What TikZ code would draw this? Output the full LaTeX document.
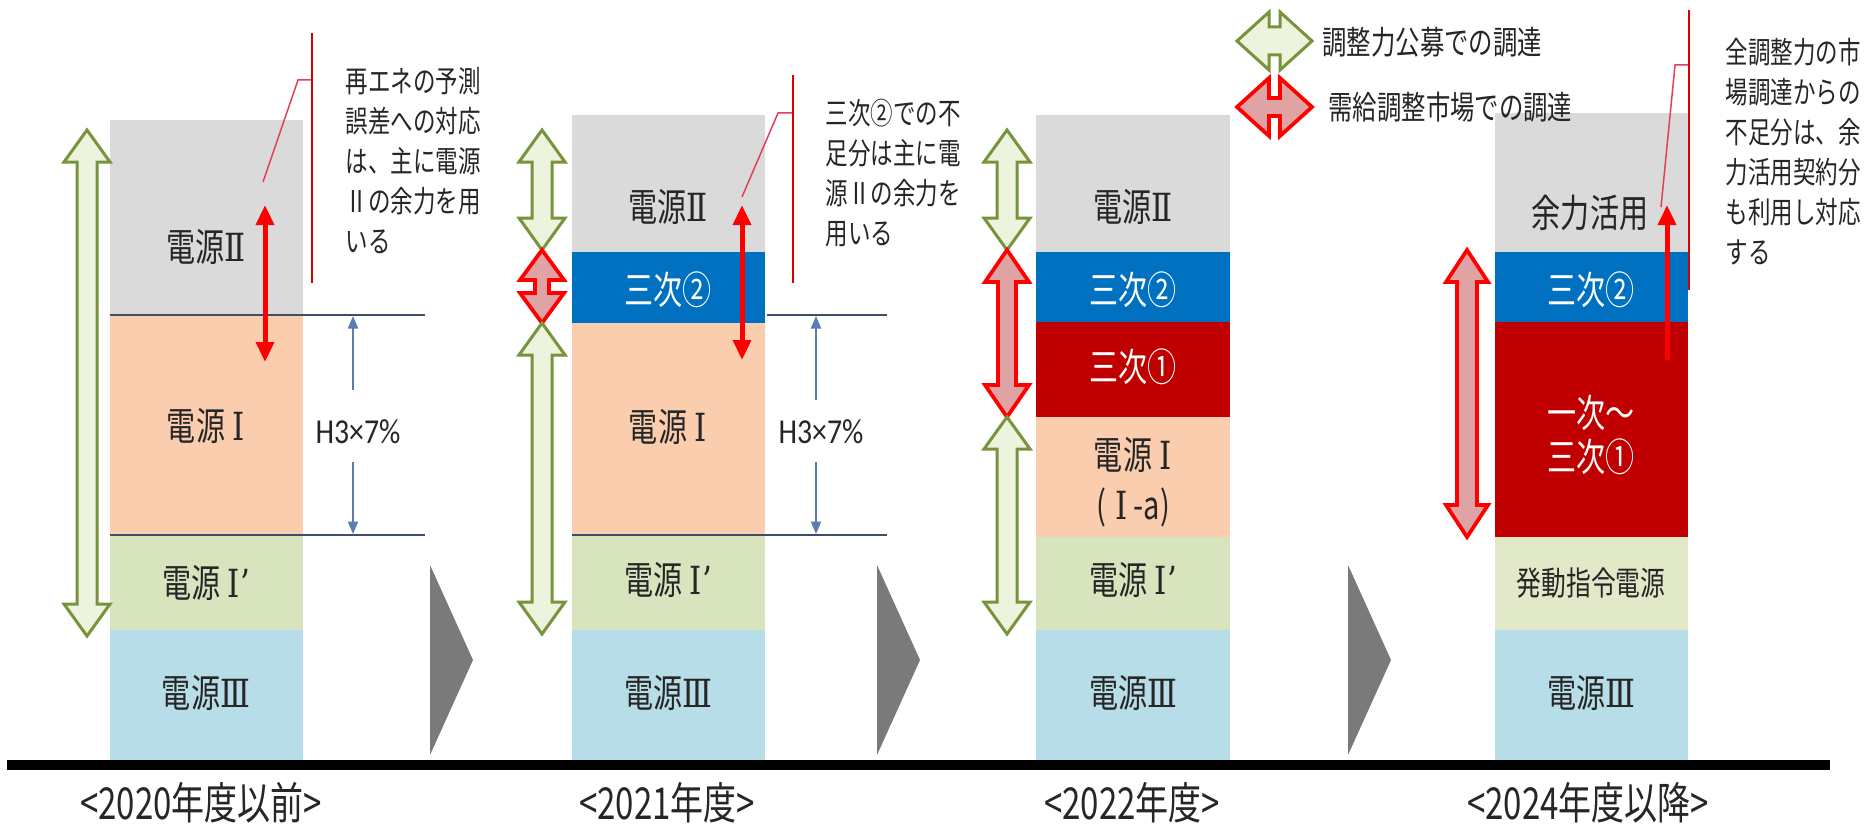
\documentclass[tikz,border=0pt]{standalone}
\usepackage{fontspec}
\usetikzlibrary{arrows.meta}
\newfontfamily\jp[FakeStretch=0.75]{Noto Sans CJK JP}
\newfontfamily\lat[FakeStretch=0.85]{Carlito}
\newfontfamily\romf[FakeStretch=0.8]{DejaVu Serif}
\newcommand{\RN}[1]{{\romf #1}}
\newcommand{\RNI}[1]{\hspace{0.2em}{\romf #1}}
\definecolor{cgray}{HTML}{DADADA}
\definecolor{cpeach}{HTML}{F9CDAE}
\definecolor{cgreen}{HTML}{D8E4BE}
\definecolor{cpale}{HTML}{E2E9C8}
\definecolor{clblue}{HTML}{B7DEE8}
\definecolor{cblue}{HTML}{0070C0}
\definecolor{cdred}{HTML}{C00000}
\definecolor{colive}{HTML}{77933C}
\definecolor{colivefill}{HTML}{EEF3DE}
\definecolor{credfill}{HTML}{DFA3A3}
\definecolor{cline}{HTML}{3F4E68}
\definecolor{cthin}{HTML}{5A7CB0}
\definecolor{ctext}{HTML}{262626}
\definecolor{cchev}{HTML}{7A7A7A}
\definecolor{ccall}{HTML}{E0405A}
\newcommand{\vdarr}[7]{% style, x, ytop, ybot, shaft hw, head hw, head len
  \draw[#1] (#2,#3) -- (#2+#6,#3+#7) -- (#2+#5,#3+#7) -- (#2+#5,#4-#7) -- (#2+#6,#4-#7) -- (#2,#4)
    -- (#2-#6,#4-#7) -- (#2-#5,#4-#7) -- (#2-#5,#3+#7) -- (#2-#6,#3+#7) -- cycle;}
\newcommand{\hdarr}[7]{% style, y, xl, xr, shaft hw, head hw, head len
  \draw[#1] (#3,#2) -- (#3+#7,#2-#6) -- (#3+#7,#2-#5) -- (#4-#7,#2-#5) -- (#4-#7,#2-#6) -- (#4,#2)
    -- (#4-#7,#2+#6) -- (#4-#7,#2+#5) -- (#3+#7,#2+#5) -- (#3+#7,#2+#6) -- cycle;}
\begin{document}
\begin{tikzpicture}[x=0.4pt,y=-0.4pt,
  lbl/.style={font=\jp\fontsize{15.5}{20}\selectfont, text=ctext, inner sep=0pt, align=center},
  wlbl/.style={lbl, text=white},
  note/.style={font=\jp\fontsize{12}{16}\selectfont, text=ctext, inner sep=0pt, align=left, anchor=north west},
  yr/.style={font=\jp\fontsize{17.6}{20}\selectfont, text=ctext, inner sep=0pt},
  hlbl/.style={font=\lat\fontsize{14}{16}\selectfont, text=ctext, inner sep=0pt},
  legtext/.style={font=\jp\fontsize{13}{16}\selectfont, text=ctext, inner sep=0pt, anchor=west},
  garr/.style={draw=colive, fill=colivefill, line width=1.2pt, line join=miter},
  rarr/.style={draw=red, fill=credfill, line width=1.5pt, line join=miter},
  thinred/.style={red, line width=2pt, -{Triangle[width=7pt,length=8pt]}},
  thinredd/.style={red, line width=2pt, {Triangle[width=7pt,length=8pt]}-{Triangle[width=7pt,length=8pt]}},
  bluearr/.style={cthin, line width=0.8pt, -{Triangle[width=4pt,length=5pt]}},
  hline/.style={cline, line width=0.9pt},
  call/.style={ccall, line width=0.6pt},
  callv/.style={red!85!black, line width=0.7pt},
  chev/.style={fill=cchev}
]
\fill[white] (0,0) rectangle (1870,826);
\useasboundingbox (0,0) rectangle (1870,826);

% ---------------- Column 1 ----------------
\fill[cgray] (110,120) rectangle (303,315);
\fill[cpeach] (110,315) rectangle (303,535);
\fill[cgreen] (110,535) rectangle (303,630);
\fill[clblue] (110,630) rectangle (303,760);
\node[lbl] (a2) at (206,247) {電源\RN{Ⅱ}};
\node[lbl] (a1) at (206,426) {電源\RNI{Ⅰ}};
\node[lbl] (a1p) at (206,583) {電源\RNI{Ⅰ’}};
\node[lbl] (a3) at (206,693) {電源\RN{Ⅲ}};
\coordinate (aL1s) at (110,315); \coordinate (aL1e) at (425,315);
\coordinate (aL2s) at (110,535); \coordinate (aL2e) at (425,535);
\draw[hline] (aL1s) -- (aL1e);
\draw[hline] (aL2s) -- (aL2e);
\node[hlbl] (ah) at (358,432) {H3×7\%};
\coordinate (ahu) at (353,390); \coordinate (ahut) at (353,316);
\coordinate (ahd) at (353,462); \coordinate (ahdt) at (353,534);
\draw[bluearr] (ahu) -- (ahut);
\draw[bluearr] (ahd) -- (ahdt);
\vdarr{garr}{87}{130}{636}{10}{23}{32}
\coordinate (art) at (265,205); \coordinate (arb) at (265,362);
\draw[thinredd] (art) -- (arb);
\coordinate (ac1) at (263,182); \coordinate (ac2) at (298,80); \coordinate (ac3) at (312,80);
\draw[call] (ac1) -- (ac2) -- (ac3);
\coordinate (av1) at (312,33); \coordinate (av2) at (312,283);
\draw[callv] (av1) -- (av2);
\node[note] (an) at (345,67) {再エネの予測\\誤差への対応\\は、主に電源\\Ⅱの余力を用\\いる};
\fill[chev] (430,565) -- (473,660) -- (430,755) -- cycle;
\node[yr] (ay) at (201,803) {<2020年度以前>};

% ---------------- Column 2 ----------------
\fill[cgray] (572,115) rectangle (765,252);
\fill[cblue] (572,252) rectangle (765,323);
\fill[cpeach] (572,323) rectangle (765,535);
\fill[cgreen] (572,535) rectangle (765,630);
\fill[clblue] (572,630) rectangle (765,760);
\node[lbl] (b2) at (668,207) {電源\RN{Ⅱ}};
\node[wlbl] (b32) at (668,290) {三次②};
\node[lbl] (b1) at (668,427) {電源\RNI{Ⅰ}};
\node[lbl] (b1p) at (668,580) {電源\RNI{Ⅰ’}};
\node[lbl] (b3) at (668,693) {電源\RN{Ⅲ}};
\coordinate (bL1s) at (767,315); \coordinate (bL1e) at (887,315);
\coordinate (bL2s) at (572,535); \coordinate (bL2e) at (887,535);
\draw[hline] (bL1s) -- (bL1e);
\draw[hline] (bL2s) -- (bL2e);
\node[hlbl] (bh) at (821,432) {H3×7\%};
\coordinate (bhu) at (816,400); \coordinate (bhut) at (816,316);
\coordinate (bhd) at (816,462); \coordinate (bhdt) at (816,534);
\draw[bluearr] (bhu) -- (bhut);
\draw[bluearr] (bhd) -- (bhdt);
\vdarr{garr}{542}{130}{250}{10}{23}{32}
\vdarr{rarr}{542}{250}{323}{7}{22}{30}
\vdarr{garr}{542}{323}{634}{10}{23}{32}
\coordinate (brt) at (742,205); \coordinate (brb) at (742,360);
\draw[thinredd] (brt) -- (brb);
\coordinate (bc1) at (742,197); \coordinate (bc2) at (778,113); \coordinate (bc3) at (793,113);
\draw[call] (bc1) -- (bc2) -- (bc3);
\coordinate (bv1) at (793,75); \coordinate (bv2) at (793,283);
\draw[callv] (bv1) -- (bv2);
\node[note] (bn) at (825,99) {三次②での不\\足分は主に電\\源Ⅱの余力を\\用いる};
\fill[chev] (877,565) -- (920,660) -- (877,755) -- cycle;
\node[yr] (by) at (667,803) {<2021年度>};

% ---------------- Column 3 ----------------
\fill[cgray] (1036,115) rectangle (1230,252);
\fill[cblue] (1036,252) rectangle (1230,322);
\fill[cdred] (1036,322) rectangle (1230,417);
\fill[cpeach] (1036,417) rectangle (1230,537);
\fill[cgreen] (1036,537) rectangle (1230,630);
\fill[clblue] (1036,630) rectangle (1230,760);
\node[lbl] (c2) at (1133,207) {電源\RN{Ⅱ}};
\node[wlbl] (c32) at (1133,290) {三次②};
\node[wlbl] (c31) at (1133,367) {三次①};
\node[lbl] (c1) at (1133,482) {電源\RNI{Ⅰ}\\(\hspace{0.25em}\RN{Ⅰ}\hspace{0.15em}-a)};
\node[lbl] (c1p) at (1133,580) {電源\RNI{Ⅰ’}};
\node[lbl] (c3) at (1133,693) {電源\RN{Ⅲ}};
\vdarr{garr}{1007}{130}{250}{10}{23}{32}
\vdarr{rarr}{1007}{250}{417}{9}{22}{32}
\vdarr{garr}{1007}{417}{634}{10}{23}{32}
\fill[chev] (1348,565) -- (1391,660) -- (1348,755) -- cycle;
\node[yr] (cy) at (1132,803) {<2022年度>};

% ---------------- Column 4 ----------------
\fill[cgray] (1495,113) rectangle (1688,252);
\fill[cblue] (1495,252) rectangle (1688,322);
\fill[cdred] (1495,322) rectangle (1688,537);
\fill[cpale] (1495,537) rectangle (1688,630);
\fill[clblue] (1495,630) rectangle (1688,760);
\node[lbl] (d2) at (1590,213) {余力活用};
\node[wlbl] (d32) at (1591,290) {三次②};
\node[wlbl, font=\jp\fontsize{15.5}{17.6}\selectfont] (d31) at (1591,435) {一次〜\\三次①};
\node[lbl, font=\jp\fontsize{13.2}{16}\selectfont] (dh) at (1591,583) {発動指令電源};
\node[lbl] (d3) at (1591,693) {電源\RN{Ⅲ}};
\vdarr{rarr}{1467}{250}{537}{10}{21}{32}
\coordinate (drt) at (1667,205); \coordinate (drb) at (1667,360);
\draw[thinred] (drb) -- (drt);
\coordinate (dc1) at (1661,207); \coordinate (dc2) at (1675,65); \coordinate (dc3) at (1688,65);
\draw[call] (dc1) -- (dc2) -- (dc3);
\coordinate (dv1) at (1689,10); \coordinate (dv2) at (1689,290);
\draw[callv] (dv1) -- (dv2);
\node[note] (dn) at (1725,38) {全調整力の市\\場調達からの\\不足分は、余\\力活用契約分\\も利用し対応\\する};
\node[yr] (dy) at (1588,803) {<2024年度以降>};

% legend
\hdarr{garr}{41}{1237}{1312}{14}{29}{32}
\hdarr{rarr}{107}{1237}{1312}{9}{29}{32}
\node[legtext] (lg1) at (1322,42) {調整力公募での調達};
\node[legtext] (lg2) at (1328,107) {需給調整市場での調達};

% base line
\coordinate (bs) at (7,765); \coordinate (be) at (1830,765);
\draw[black, line width=4pt] (bs) -- (be);
\end{tikzpicture}
\end{document}
